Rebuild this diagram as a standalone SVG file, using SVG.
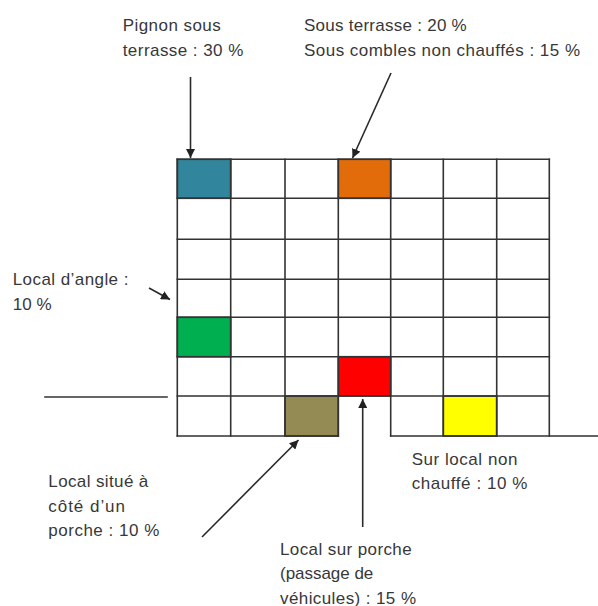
<svg xmlns="http://www.w3.org/2000/svg" width="598" height="606" viewBox="0 0 598 606">
<defs>
<marker id="ah" viewBox="0 0 10 10" refX="10" refY="5" markerWidth="9" markerHeight="9" markerUnits="userSpaceOnUse" orient="auto">
<path d="M0,0 L10,5 L0,10 z" fill="#222"/>
</marker>
<style>
.t{font-family:"Liberation Sans",Arial,sans-serif;font-size:17px;fill:#383838}
.g{stroke:#333;stroke-width:1.6;fill:none;stroke-linecap:square}
.c{stroke:#333;stroke-width:1.6}
.a{stroke:#2a2a2a;stroke-width:1.6;fill:none;marker-end:url(#ah)}
</style>
</defs>
<rect width="598" height="606" fill="#fff"/>
<g id="cells">
<rect class="c" x="177.3" y="159.3" width="53.4" height="39" fill="#31859C"/>
<rect class="c" x="338.3" y="159.3" width="52.4" height="39" fill="#E36C0A"/>
<rect class="c" x="177.3" y="317.3" width="53.4" height="39.4" fill="#00B050"/>
<rect class="c" x="338.3" y="356.7" width="52.4" height="39.3" fill="#FF0000"/>
<rect class="c" x="285" y="396" width="53.3" height="40" fill="#948A54"/>
<rect class="c" x="443.3" y="396" width="53.4" height="40" fill="#FFFF00"/>
</g>
<g id="grid" class="g">
<path d="M177.3,159.3H549.3M177.3,198.3H549.3M177.3,239.3H549.3M177.3,279.3H549.3M177.3,317.3H549.3M177.3,356.7H549.3M177.3,396H549.3M177.3,436H338.3M390.7,436H598"/>
<path d="M177.3,159.3V436M230.7,159.3V436M285,159.3V436M338.3,159.3V436M390.7,159.3V436M443.3,159.3V436M496.7,159.3V436M549.3,159.3V436"/>
<path d="M45,397H167"/>
</g>
<g id="connectors">
<line class="a" x1="190.5" y1="77" x2="190.5" y2="158"/>
<line class="a" x1="391" y1="73" x2="352.5" y2="158"/>
<line class="a" x1="149" y1="288" x2="170" y2="299.5"/>
<line class="a" x1="202" y1="537" x2="298.5" y2="440"/>
<line class="a" x1="362.7" y1="527" x2="362.7" y2="399"/>
</g>
<g id="label-pignon">
<text class="t" x="122.7" y="30.5" textLength="98" lengthAdjust="spacing">Pignon sous</text>
<text class="t" x="122.7" y="56" textLength="120.6" lengthAdjust="spacing">terrasse : 30 %</text>
</g>
<g id="label-terrasse">
<text class="t" x="304" y="30.5" textLength="162.7" lengthAdjust="spacing">Sous terrasse : 20 %</text>
<text class="t" x="304" y="56" textLength="276" lengthAdjust="spacing">Sous combles non chauffés : 15 %</text>
</g>
<g id="label-angle">
<text class="t" x="12.7" y="285" textLength="115.7" lengthAdjust="spacing">Local d’angle :</text>
<text class="t" x="12.7" y="310" textLength="39" lengthAdjust="spacing">10 %</text>
</g>
<g id="label-cote-porche">
<text class="t" x="48.3" y="487.3" textLength="100" lengthAdjust="spacing">Local situé à</text>
<text class="t" x="48.3" y="511.7" textLength="76.7" lengthAdjust="spacing">côté d’un</text>
<text class="t" x="48.3" y="536" textLength="111" lengthAdjust="spacing">porche : 10 %</text>
</g>
<g id="label-non-chauffe">
<text class="t" x="411.7" y="465" textLength="105.7" lengthAdjust="spacing">Sur local non</text>
<text class="t" x="411.7" y="489.3" textLength="115.7" lengthAdjust="spacing">chauffé : 10 %</text>
</g>
<g id="label-porche">
<text class="t" x="280" y="555" textLength="131.7" lengthAdjust="spacing">Local sur porche</text>
<text class="t" x="280" y="579.3" textLength="93.3" lengthAdjust="spacing">(passage de</text>
<text class="t" x="280" y="603.5" textLength="136" lengthAdjust="spacing">véhicules) : 15 %</text>
</g>
</svg>
